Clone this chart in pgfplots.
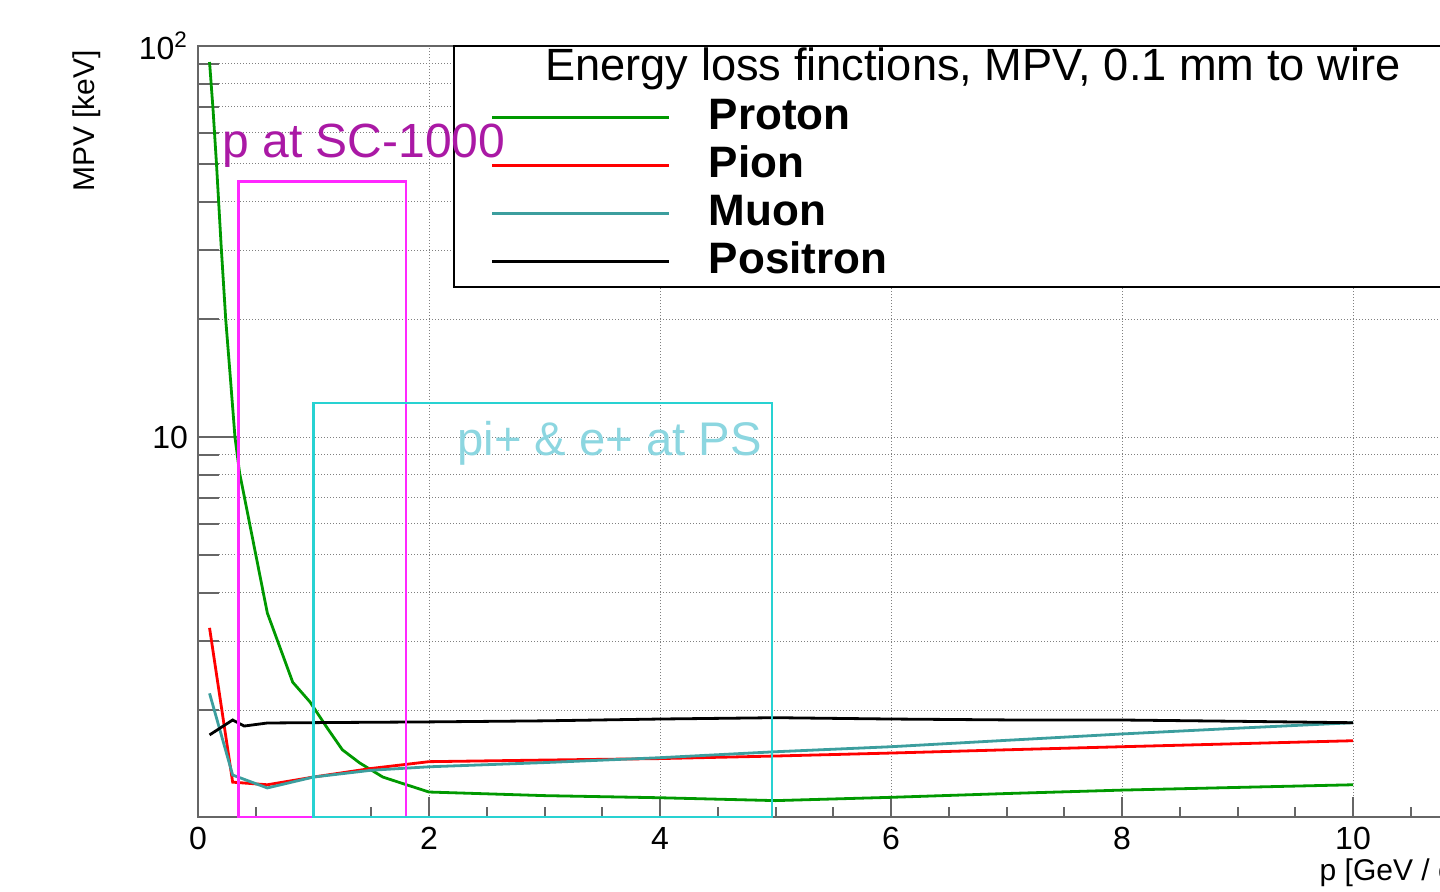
\documentclass[border=0pt]{standalone}
\usepackage{fontspec}
\setmainfont{Liberation Sans}
\usepackage{pgfplots}
\pgfplotsset{compat=1.18}
\definecolor{proton}{RGB}{0,153,0}
\definecolor{pion}{RGB}{255,0,0}
\definecolor{muon}{RGB}{60,158,158}
\definecolor{boxmag}{RGB}{255,40,255}
\definecolor{boxcyan}{RGB}{40,210,210}
\definecolor{txtmag}{RGB}{170,25,165}
\definecolor{txtcyan}{RGB}{140,214,224}

\begin{document}
\begin{tikzpicture}
\begin{axis}[
    at={(99pt,37pt)}, anchor=south west,
    scale only axis, width=635.25pt, height=385.5pt,
    clip=false,
    xmin=0, xmax=11,
    ymode=log, ymin=1.0669, ymax=100,
    xtick={0,2,...,10},
    minor xtick={0.5,1,1.5,2.5,3,3.5,4.5,5,5.5,6.5,7,7.5,8.5,9,9.5,10.5},
    ytick={10,100},
    yticklabels={10,10\textsuperscript{2}},
    minor ytick={2,3,4,5,6,7,8,9,20,30,40,50,60,70,80,90},
    xtick pos=left, ytick pos=left,
    tick align=inside,
    x tick style={/pgfplots/major tick length=10pt,/pgfplots/minor tick length=5pt},
    y tick style={/pgfplots/major tick length=20pt,/pgfplots/minor tick length=10.5pt},
    tick style={black!60, line width=1pt},
    axis line style={black!60, line width=1pt},
    xmajorgrids, ymajorgrids, yminorgrids,
    grid style={gray, line width=0.5pt, dash pattern=on 0.6pt off 0.9pt},
    minor grid style={gray, line width=0.5pt, dash pattern=on 0.6pt off 0.9pt},
    /pgf/number format/assume math mode=true,
    x tick label style={font=\fontsize{16}{18}\selectfont, yshift=-1.5pt},
    y tick label style={font=\fontsize{16}{18}\selectfont, xshift=-1.5pt},
    xlabel={p [GeV / c]},
    x label style={at={(axis description cs:1,0)}, anchor=base east, yshift=-31.5pt, font=\fontsize{15}{17}\selectfont},
    ylabel={MPV [keV]},
    y label style={at={(axis description cs:-0.0811,1.004)}, anchor=base east, font=\fontsize{15}{17}\selectfont},
    legend cell align=left,
    legend style={draw=none, fill=none, at={(0.2306,0.9326)}, anchor=north west,
        inner sep=0pt, outer sep=0pt, row sep=0pt, column sep=19pt,
        font=\fontsize{22}{24}\selectfont\bfseries,
        nodes={inner sep=0pt, text height=16pt, text depth=8pt}},
    legend image code/.code={\draw[#1, line width=1.5pt] (0pt,2pt) -- (88.5pt,2pt);},
]
% legend frame (covers the grid)
\filldraw[fill=white, draw=black, line width=1pt] (rel axis cs:0.2015,1) rectangle (rel axis cs:1.2,0.6874);

\addplot[proton, line width=1.4pt] coordinates {
    (0.1,91) (0.13,69) (0.16,50) (0.2,31) (0.24,20) (0.28,14.2) (0.32,10) (0.36,8.1)
    (0.6,3.55) (0.82,2.36) (0.97,2.10) (1.12,1.80) (1.25,1.585) (1.4,1.467) (1.6,1.35)
    (1.77,1.30) (2,1.236) (3,1.21) (4,1.195) (5,1.175) (6,1.198) (7,1.225) (8,1.25)
    (9,1.27) (10,1.29)
};
\addlegendentry{Proton}
\addplot[pion, line width=1.4pt] coordinates {
    (0.1,3.25) (0.3,1.31) (0.6,1.29) (1,1.35) (1.5,1.42) (2,1.478) (3,1.492) (4,1.505)
    (5,1.528) (6,1.555) (7,1.585) (8,1.614) (9,1.643) (10,1.672)
};
\addlegendentry{Pion}
\addplot[muon, line width=1.4pt] coordinates {
    (0.1,2.21) (0.3,1.366) (0.6,1.266) (1,1.35) (1.5,1.405) (2,1.434) (3,1.47) (4,1.513)
    (5,1.567) (6,1.614) (7,1.676) (8,1.74) (9,1.80) (10,1.859)
};
\addlegendentry{Muon}
\addplot[black, line width=1.4pt] coordinates {
    (0.1,1.73) (0.3,1.889) (0.4,1.823) (0.6,1.856) (1,1.86) (2,1.868) (3,1.88) (4,1.90)
    (5,1.915) (6,1.90) (7,1.89) (8,1.889) (9,1.875) (10,1.859)
};
\addlegendentry{Positron}

% selection boxes
\draw[boxmag, line width=1.2pt] (axis cs:0.35,1.0669) rectangle (axis cs:1.8,45);
\draw[boxcyan, line width=1.2pt] (axis cs:1.0,1.0669) rectangle (axis cs:4.97,12.2);

\node[anchor=base west, inner sep=0pt, font=\fontsize{22.6}{25}\selectfont]
    at (rel axis cs:0.2731,0.9559) {Energy loss finctions, MPV, 0.1 mm to wire};
\node[anchor=base west, inner sep=0pt, text=txtmag, font=\fontsize{24}{26}\selectfont]
    at (rel axis cs:0.0189,0.856) {p at SC-1000};
\node[anchor=base west, inner sep=0pt, text=txtcyan, font=\fontsize{23.6}{26}\selectfont]
    at (rel axis cs:0.2038,0.4695) {pi+ \& e+ at PS};
\end{axis}
\pgfresetboundingbox
\useasboundingbox (0,0) rectangle (720pt,445.5pt);
\end{tikzpicture}
\end{document}
